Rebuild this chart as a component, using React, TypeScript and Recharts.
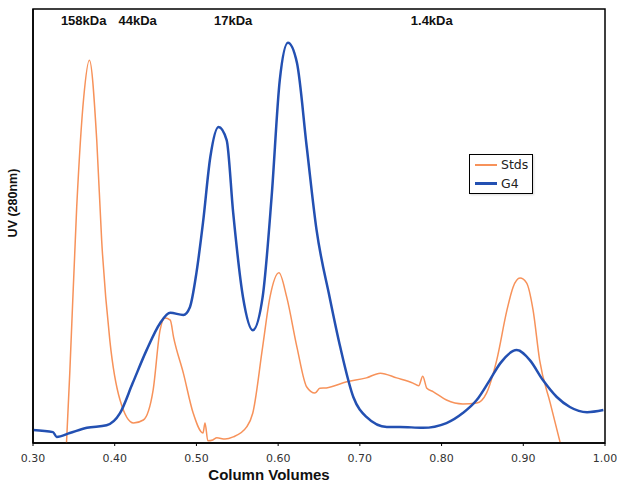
import { LineChart, Line, XAxis, YAxis, ReferenceArea, ReferenceLine } from "recharts";

// Column volumes / UV (arbitrary units, 0-100)
const STDS_CV = [
  0.341, 0.345, 0.3535, 0.362, 0.369, 0.378, 0.384, 0.394, 0.4065, 0.423, 0.435, 0.447,
  0.4555, 0.4615, 0.468, 0.472, 0.484, 0.496, 0.508, 0.5105, 0.514, 0.52, 0.525, 0.535,
  0.545, 0.5615, 0.569, 0.581, 0.59, 0.601, 0.6105, 0.623, 0.635, 0.645, 0.651, 0.659,
  0.684, 0.708, 0.725, 0.745, 0.765, 0.772, 0.777, 0.782, 0.79, 0.806, 0.826, 0.843,
  0.855, 0.8675, 0.88, 0.8875, 0.896, 0.904, 0.912, 0.92, 0.933, 0.945,
];
const STDS_UV = [
  0, 16.1, 54.4, 79.5, 88.2, 69.8, 46.8, 23.7, 9.9, 4.6, 5.3, 12.2,
  26.0, 28.8, 28.3, 24.4, 16.1, 6.9, 2.3, 4.6, 0.5, 0.7, 1.2, 0.9,
  1.4, 3.7, 6.9, 22.1, 33.6, 39.2, 33.6, 22.1, 12.9, 11.5, 12.6, 12.7,
  14.1, 15.0, 16.1, 15.0, 13.8, 13.2, 15.4, 12.6, 11.8, 9.9, 9.0, 9.2,
  11.5, 19.1, 30.6, 35.9, 38.0, 36.9, 30.6, 19.1, 9.2, 0.2,
];

const G4_CV = [
  0.3, 0.3245, 0.329, 0.345, 0.366, 0.39, 0.4065, 0.422, 0.439, 0.4555, 0.468, 0.484,
  0.492, 0.5, 0.508, 0.517, 0.527, 0.537, 0.545, 0.557, 0.569, 0.581, 0.592, 0.602,
  0.612, 0.623, 0.635, 0.647, 0.663, 0.676, 0.692, 0.708, 0.733, 0.749, 0.777, 0.806,
  0.826, 0.843, 0.859, 0.872, 0.892, 0.908, 0.924, 0.941, 0.957, 0.978, 0.998,
];
const G4_UV = [
  3.0, 2.5, 1.4, 2.3, 3.5, 4.1, 6.9, 13.8, 21.4, 27.6, 30.0, 29.5,
  31.3, 39.2, 50.7, 65.9, 72.8, 69.8, 53.0, 33.6, 26.0, 33.6, 56.7, 83.6,
  92.2, 87.6, 68.2, 49.1, 33.6, 22.1, 10.6, 6.0, 3.7, 3.7, 3.5, 4.6,
  6.9, 9.9, 14.5, 18.4, 21.4, 19.1, 14.5, 10.6, 8.3, 7.1, 7.6,
];

const X_TICKS = [0.3, 0.4, 0.5, 0.6, 0.7, 0.8, 0.9, 1.0];

const MARKERS = [
  { cv: 0.362, label: "158kDa" },
  { cv: 0.428, label: "44kDa" },
  { cv: 0.545, label: "17kDa" },
  { cv: 0.788, label: "1.4kDa" },
];

const SERIES_NAMES = ["Stds", "G4"];

const stds = STDS_CV.map((cv, i) => ({ cv, uv: STDS_UV[i] }));
const g4 = G4_CV.map((cv, i) => ({ cv, uv: G4_UV[i] }));

const ORANGE = "#f7925a";
const BLUE = "#2350b2";
const BOLD = "Liberation Sans, Arial, sans-serif";

function LegendBox() {
  const items = [
    { name: SERIES_NAMES[0], color: ORANGE, w: 2 },
    { name: SERIES_NAMES[1], color: BLUE, w: 2.5 },
  ];
  return (
    <div
      style={{
        position: "absolute",
        left: 469,
        top: 154,
        width: 62,
        height: 38,
        border: "1px solid #000",
        background: "#fff",
        boxShadow: "1px 1px 2px rgba(0,0,0,0.15)",
        fontFamily: "DejaVu Sans, sans-serif",
        fontSize: 12.5,
        color: "#222",
        boxSizing: "content-box",
      }}
    >
      {items.map((it) => (
        <div key={it.name} style={{ display: "flex", alignItems: "center", height: 19, paddingLeft: 5 }}>
          <span style={{ display: "inline-block", width: 22, height: it.w, background: it.color, marginRight: 4 }} />
          {it.name}
        </div>
      ))}
    </div>
  );
}

export default function App() {
  return (
    <div style={{ position: "absolute", top: 0, left: 0, width: 617, height: 484, background: "#fff", overflow: "hidden" }}>
      <LineChart width={617} height={484} margin={{ top: 9, right: 12, bottom: 0, left: 0 }}>
        <XAxis
          type="number"
          dataKey="cv"
          domain={[0.3, 1.0]}
          ticks={X_TICKS}
          allowDataOverflow
          tickFormatter={(v: number) => v.toFixed(2)}
          tick={{ fill: "#333", fontSize: 11, fontFamily: "DejaVu Sans, sans-serif" }}
          tickSize={3}
          tickMargin={8}
          axisLine={{ stroke: "#000", strokeWidth: 1.5 }}
          tickLine={{ stroke: "#000" }}
          height={41}
          label={{
            content: () => (
              <text x={269} y={480} textAnchor="middle" fontFamily={BOLD} fontWeight="bold" fontSize={15} fill="#111">
                Column Volumes
              </text>
            ),
          }}
        />
        <YAxis
          type="number"
          domain={[0, 100]}
          allowDataOverflow
          width={33}
          tick={false}
          tickLine={false}
          axisLine={{ stroke: "#000", strokeWidth: 1.5 }}
          label={{
            content: () => (
              <text
                x={13}
                y={203}
                transform="rotate(-90 13 203)"
                textAnchor="middle"
                dominantBaseline="central"
                fontFamily={BOLD}
                fontWeight="bold"
                fontSize={12.5}
                fill="#111"
              >
                UV (280nm)
              </text>
            ),
          }}
        />
        <ReferenceArea x1={0.3} x2={1.0} y1={0} y2={100} fill="none" stroke="#000" strokeWidth={1.5} />
        {MARKERS.map((m) => (
          <ReferenceLine
            key={m.label}
            x={m.cv}
            stroke="none"
            label={{
              content: (props: any) => (
                <text
                  x={props.viewBox ? props.viewBox.x : 0}
                  y={25}
                  textAnchor="middle"
                  fontFamily={BOLD}
                  fontWeight="bold"
                  fontSize={13}
                  fill="#111"
                >
                  {m.label}
                </text>
              ),
            }}
          />
        ))}
        <Line
          data={stds}
          dataKey="uv"
          name={SERIES_NAMES[0]}
          type="monotone"
          stroke={ORANGE}
          strokeWidth={1.5}
          dot={false}
          isAnimationActive={false}
        />
        <Line
          data={g4}
          dataKey="uv"
          name={SERIES_NAMES[1]}
          type="monotone"
          stroke={BLUE}
          strokeWidth={2.5}
          dot={false}
          isAnimationActive={false}
        />
      </LineChart>
      <LegendBox />
    </div>
  );
}
